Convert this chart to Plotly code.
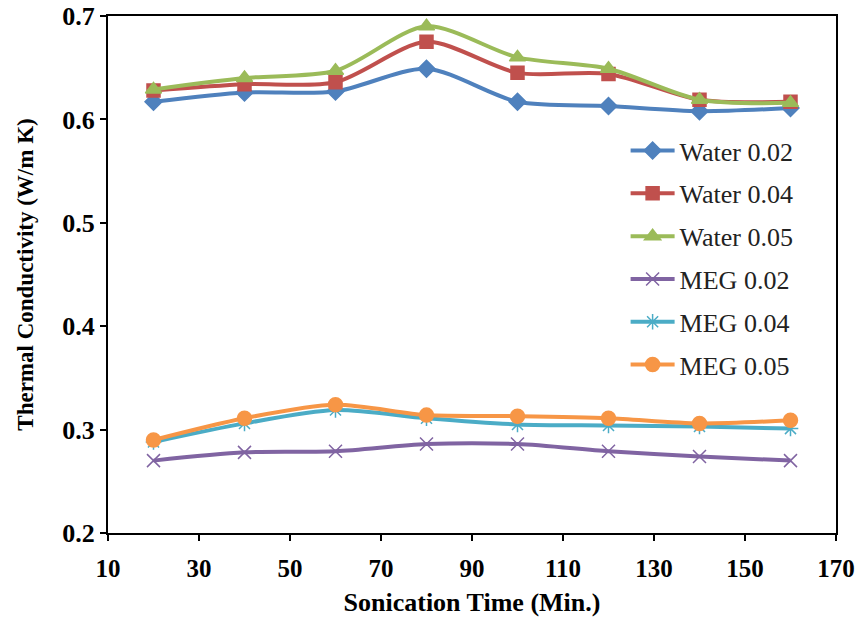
import plotly.graph_objects as go

# Sonication time (min)
time_min = [20, 40, 60, 80, 100, 120, 140, 160]

# Thermal conductivity (W/m K) for each nanofluid
water_002 = [0.617, 0.626, 0.627, 0.649, 0.617, 0.613, 0.608, 0.611]
water_004 = [0.628, 0.634, 0.636, 0.675, 0.645, 0.644, 0.619, 0.617]
water_005 = [0.629, 0.640, 0.647, 0.690, 0.660, 0.649, 0.619, 0.616]
meg_002 = [0.270, 0.278, 0.279, 0.286, 0.286, 0.279, 0.274, 0.270]
meg_004 = [0.288, 0.306, 0.319, 0.311, 0.305, 0.304, 0.303, 0.301]
meg_005 = [0.290, 0.311, 0.324, 0.314, 0.313, 0.311, 0.306, 0.309]

series = [
    ("Water 0.02", water_002, "#4F81BD", "diamond", 13),
    ("Water 0.04", water_004, "#C0504D", "square", 13),
    ("Water 0.05", water_005, "#9BBB59", "triangle-up", 14),
    ("MEG 0.02", meg_002, "#8064A2", "x-thin", 13),
    ("MEG 0.04", meg_004, "#4BACC6", "asterisk", 13),
    ("MEG 0.05", meg_005, "#F79646", "circle", 14),
]

fig = go.Figure()
for name, vals, color, symbol, size in series:
    fig.add_trace(go.Scatter(
        x=time_min, y=vals, name=name, legendgroup=name,
        mode="lines+markers",
        line=dict(color=color, width=4, shape="spline", smoothing=0.8),
        marker=dict(symbol=symbol, size=size, color=color,
                    line=dict(color=color, width=1.5)),
    ))

serif = "Liberation Serif, Times New Roman, serif"

fig.update_layout(
    width=855, height=621,
    margin=dict(l=108, r=19, t=16, b=88),
    paper_bgcolor="white", plot_bgcolor="white",
    font=dict(family=serif, color="black"),
    showlegend=True,
    legend=dict(
        x=0.711, y=0.785, xanchor="left", yanchor="top",
        font=dict(family=serif, size=26, color="#222"),
        bgcolor="rgba(0,0,0,0)", tracegroupgap=6, itemwidth=44,
    ),
    xaxis=dict(
        range=[10, 170], tickvals=list(range(10, 171, 20)),
        automargin=False,
        showgrid=False, zeroline=False,
        showline=True, linecolor="black", linewidth=2, mirror=True,
        ticks="outside", ticklen=6, tickwidth=2, tickcolor="black",
        tickfont=dict(family=serif, size=25, color="black", weight="bold"),
        ticklabelstandoff=6, ticklabeloverflow="allow",
        title=dict(text="Sonication Time (Min.)",
                   font=dict(family=serif, size=26, color="black",
                             weight="bold"),
                   standoff=12),
    ),
    yaxis=dict(
        range=[0.2, 0.7], tickvals=[0.2, 0.3, 0.4, 0.5, 0.6, 0.7],
        tickformat=".1f", automargin=False,
        showgrid=False, zeroline=False,
        showline=True, linecolor="black", linewidth=2, mirror=True,
        ticks="outside", ticklen=6, tickwidth=2, tickcolor="black",
        tickfont=dict(family=serif, size=26, color="black", weight="bold"),
        ticklabeloverflow="allow",
        title=dict(text="Thermal Conductivity (W/m K)",
                   font=dict(family=serif, size=23, color="black",
                             weight="bold"),
                   standoff=22),
    ),
)

fig.write_html("out.html")
